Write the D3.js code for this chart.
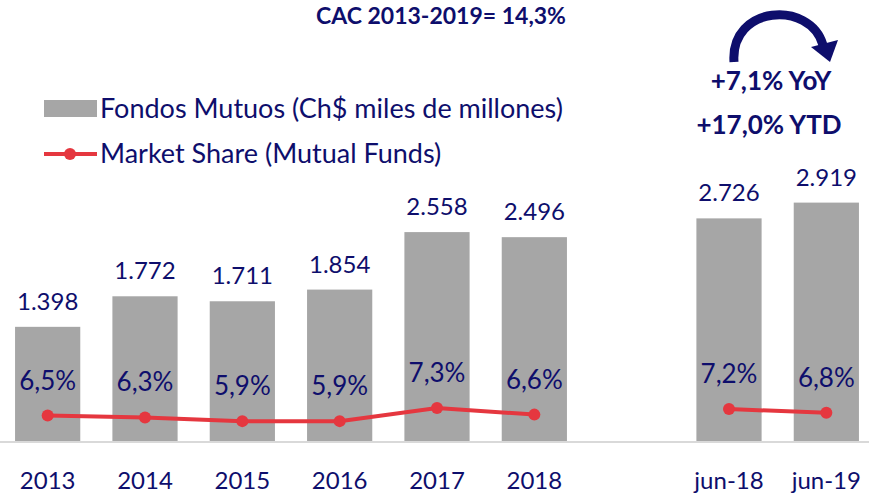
<!DOCTYPE html>
<html>
<head>
<meta charset="utf-8">
<script src="https://cdn.jsdelivr.net/npm/d3@7"></script>
<style>
  body { margin: 0; background: #fff; }
  text { font-family: Lato, "Open Sans", sans-serif; }
</style>
</head>
<body>
<div id="chart"></div>
<script>
var width = 869, height = 495;

// data
var years = ['2013', '2014', '2015', '2016', '2017', '2018'];
var halves = ['jun-18', 'jun-19'];
var fundValues = [1398, 1772, 1711, 1854, 2558, 2496, 2726, 2919];
var shareValues = [6.5, 6.3, 5.9, 5.9, 7.3, 6.6, 7.2, 6.8];
var fundLabels = ['1.398', '1.772', '1.711', '1.854', '2.558', '2.496', '2.726', '2.919'];
var shareLabels = ['6,5%', '6,3%', '5,9%', '5,9%', '7,3%', '6,6%', '7,2%', '6,8%'];

var navy = '#0e0e6c', grey = '#a6a6a6', red = '#e5373f';

var categories = years.concat(halves);
// empty slot between the yearly and the half-year groups
var slots = years.concat(['gap'], halves);

var x = d3.scaleBand().domain(slots).range([-1, 875]).paddingInner(0.33).paddingOuter(0.165);
var y = d3.scaleLinear().domain([0, 3000]).range([441, 196]);
var y2 = d3.scaleLinear().domain([0, 10]).range([476, 383]);

var data = categories.map(function(c, i) {
  return { cat: c, fund: fundValues[i], share: shareValues[i], fl: fundLabels[i], sl: shareLabels[i] };
});

var svg = d3.select('#chart').append('svg')
  .attr('width', width)
  .attr('height', height);

// bars
svg.selectAll('.bar')
  .data(data)
  .enter()
  .append('rect')
  .attr('x', function(d) { return x(d.cat) })
  .attr('y', function(d) { return y(d.fund) })
  .attr('width', x.bandwidth())
  .attr('height', function(d) { return y(0) - y(d.fund) })
  .attr('fill', grey);

// baseline
svg.append('line')
  .attr('x1', 0).attr('x2', width)
  .attr('y1', y(0) + 1).attr('y2', y(0) + 1)
  .attr('stroke', '#d9d9d9')
  .attr('stroke-width', 2);

// bar value labels
svg.selectAll('.fl')
  .data(data)
  .enter()
  .append('text')
  .attr('x', function(d) { return x(d.cat) + x.bandwidth() / 2 })
  .attr('y', function(d) { return y(d.fund) - 17 })
  .attr('text-anchor', 'middle')
  .style('font-size', '24px')
  .attr('fill', navy)
  .text(function(d) { return d.fl });

// market share line, in two pieces
var line = d3.line()
  .x(function(d) { return x(d.cat) + x.bandwidth() / 2 })
  .y(function(d) { return y2(d.share) });

[data.slice(0, 6), data.slice(6)].forEach(function(seg) {
  svg.append('path')
    .attr('d', line(seg))
    .attr('fill', 'none')
    .attr('stroke', red)
    .attr('stroke-width', 4);
});

svg.selectAll('.dot')
  .data(data)
  .enter()
  .append('circle')
  .attr('cx', function(d) { return x(d.cat) + x.bandwidth() / 2 })
  .attr('cy', function(d) { return y2(d.share) })
  .attr('r', 6)
  .attr('fill', red);

svg.selectAll('.sl')
  .data(data)
  .enter()
  .append('text')
  .attr('x', function(d) { return x(d.cat) + x.bandwidth() / 2 })
  .attr('y', function(d) { return y2(d.share) - 26 })
  .attr('text-anchor', 'middle')
  .style('font-size', '26px')
  .attr('fill', navy)
  .text(function(d) { return d.sl });

// category labels
svg.selectAll('.cat')
  .data(data)
  .enter()
  .append('text')
  .attr('x', function(d) { return x(d.cat) + x.bandwidth() / 2 })
  .attr('y', 489)
  .attr('text-anchor', 'middle')
  .style('font-size', '24px')
  .attr('fill', navy)
  .text(function(d) { return d.cat });

// legend
var legend = svg.append('g');
legend.append('rect')
  .attr('x', 44).attr('y', 100).attr('width', 53).attr('height', 17)
  .attr('fill', grey);
legend.append('text')
  .attr('x', 100).attr('y', 118)
  .style('font-size', '27px')
  .attr('fill', navy)
  .text('Fondos Mutuos (Ch$ miles de millones)');
legend.append('line')
  .attr('x1', 44).attr('x2', 97).attr('y1', 154).attr('y2', 154)
  .attr('stroke', red).attr('stroke-width', 4);
legend.append('circle')
  .attr('cx', 70).attr('cy', 154).attr('r', 6)
  .attr('fill', red);
legend.append('text')
  .attr('x', 100).attr('y', 163)
  .style('font-size', '27px')
  .attr('fill', navy)
  .text('Market Share (Mutual Funds)');

// title
svg.append('text')
  .attr('x', 441).attr('y', 24)
  .attr('text-anchor', 'middle')
  .style('font-size', '23px')
  .style('font-weight', 'bold')
  .attr('fill', navy)
  .text('CAC 2013-2019= 14,3%');

// curved arrow
svg.append('path')
  .attr('d', 'M 734 62 C 730 5, 810 0, 823 45')
  .attr('fill', 'none')
  .attr('stroke', navy)
  .attr('stroke-width', 9);
svg.append('path')
  .attr('d', 'M 811 47 L 838 40 L 830 62 Z')
  .attr('fill', navy);

svg.append('text')
  .attr('x', 771).attr('y', 90)
  .attr('text-anchor', 'middle')
  .style('font-size', '26px')
  .style('font-weight', 'bold')
  .attr('fill', navy)
  .text('+7,1% YoY');
svg.append('text')
  .attr('x', 769).attr('y', 134)
  .attr('text-anchor', 'middle')
  .style('font-size', '26px')
  .style('font-weight', 'bold')
  .attr('fill', navy)
  .text('+17,0% YTD');
</script>
</body>
</html>
